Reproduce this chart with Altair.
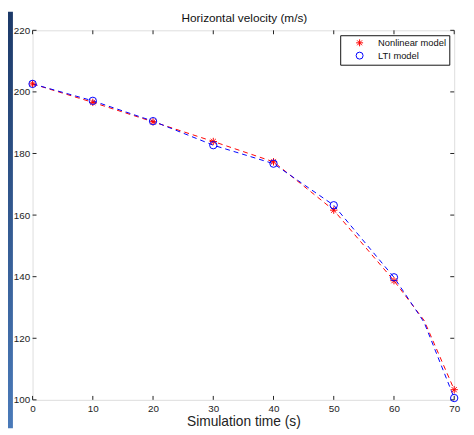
import altair as alt
import pandas as pd

# ---- data ----
series_names = ["Nonlinear model", "LTI model"]
marker_t = [0, 10, 20, 30, 40, 50, 60, 70]
nonlinear_v = [202.6, 196.6, 190.3, 183.9, 177.3, 161.6, 138.7, 103.3]
lti_v = [202.6, 197.1, 190.5, 182.7, 176.7, 163.2, 139.8, 100.6]

line_t = [0, 10, 20, 30, 40, 50, 60, 65, 70]
nonlinear_line = [202.6, 196.6, 190.3, 183.9, 177.3, 161.6, 138.7, 125.8, 103.3]
lti_line = [202.6, 197.1, 190.5, 182.7, 176.7, 163.2, 139.8, 125.2, 100.6]

x_ticks = [0, 10, 20, 30, 40, 50, 60, 70]
y_ticks = [100, 120, 140, 160, 180, 200, 220]
title_text = ["Horizontal velocity (m/s)"]

W, H = 429, 376
FONT = "Liberation Sans"
STAR = "M-1,0L1,0M0,-1L0,1M-0.7,-0.7L0.7,0.7M-0.7,0.7L0.7,-0.7"

pts = pd.DataFrame(
    {"t": marker_t * 2,
     "v": nonlinear_v + lti_v,
     "series": [series_names[0]] * len(marker_t) + [series_names[1]] * len(marker_t)}
)
lines = pd.DataFrame(
    {"t": line_t * 2,
     "v": nonlinear_line + lti_line,
     "series": [series_names[0]] * len(line_t) + [series_names[1]] * len(line_t)}
)
xt = pd.DataFrame({"t": x_ticks})
yt = pd.DataFrame({"v": y_ticks})

xs = alt.Scale(domain=[0, 70], nice=False, zero=False)
ys = alt.Scale(domain=[100, 220], nice=False, zero=False)
cscale = alt.Scale(domain=series_names, range=["#ff0000", "#0000ff"])

x_axis = alt.Axis(values=x_ticks, title="Simulation time (s)", ticks=False, domain=False,
                  grid=False, labelFont=FONT, labelFontSize=10, labelColor="#222",
                  labelPadding=4, titleFont=FONT, titleFontSize=14, titleFontWeight="normal",
                  titleColor="#222", titlePadding=1, labelFlush=False)
y_axis = alt.Axis(values=y_ticks, title=None, ticks=False, domain=False, grid=False,
                  labelFont=FONT, labelFontSize=10, labelColor="#222", labelPadding=3)

line_layer = alt.Chart(lines).mark_line(strokeDash=[5, 4], strokeWidth=1).encode(
    x=alt.X("t:Q", scale=xs, axis=x_axis),
    y=alt.Y("v:Q", scale=ys, axis=y_axis),
    color=alt.Color("series:N", scale=cscale, legend=None),
    detail="series:N",
)

point_layer = alt.Chart(pts).mark_point(filled=False, strokeWidth=1, size=56, opacity=1).encode(
    x=alt.X("t:Q", scale=xs),
    y=alt.Y("v:Q", scale=ys),
    color=alt.Color("series:N", scale=cscale, title=None,
                    legend=alt.Legend(orient="none", legendX=313, legendY=5,
                                      strokeColor="#111", fillColor="white", padding=3,
                                      labelFont=FONT, labelFontSize=9.5, labelColor="#111",
                                      symbolOffset=12, labelOffset=14, rowPadding=1,
                                      symbolStrokeWidth=1, symbolSize=50, cornerRadius=0)),
    shape=alt.Shape("series:N", scale=alt.Scale(domain=series_names, range=[STAR, "circle"]),
                    title=None),
)

tick_bottom = alt.Chart(xt).mark_rule(color="#222", strokeWidth=1).encode(
    x=alt.X("t:Q", scale=xs), y=alt.value(H), y2=alt.value(H - 4))
tick_top = alt.Chart(xt).mark_rule(color="#222", strokeWidth=1).encode(
    x=alt.X("t:Q", scale=xs), y=alt.value(0), y2=alt.value(4))
tick_left = alt.Chart(yt).mark_rule(color="#222", strokeWidth=1).encode(
    y=alt.Y("v:Q", scale=ys), x=alt.value(0), x2=alt.value(4))
tick_right = alt.Chart(yt).mark_rule(color="#222", strokeWidth=1).encode(
    y=alt.Y("v:Q", scale=ys), x=alt.value(W), x2=alt.value(W - 4))

strip = alt.Chart(pd.DataFrame({"a": [0]})).mark_rect(
    color=alt.Gradient(gradient="linear",
                       stops=[alt.GradientStop(color="#1c3968", offset=0),
                              alt.GradientStop(color="#4a7ab9", offset=1)],
                       x1=0, x2=0, y1=0, y2=1)
).encode(x=alt.value(-25), x2=alt.value(-20), y=alt.value(-19), y2=alt.value(405))

title_layer = alt.Chart(pd.DataFrame({"txt": title_text})).mark_text(
    font=FONT, fontSize=12, color="#111", baseline="alphabetic", align="center"
).encode(text="txt:N", x=alt.value(W / 2 + 1), y=alt.value(-8))

chart = alt.layer(
    strip, line_layer, tick_bottom, tick_top, tick_left, tick_right, point_layer, title_layer
).resolve_scale(color="independent", shape="independent").properties(
    width=W, height=H,
    autosize=alt.AutoSizeParams(type="none"),
    padding={"left": 25, "top": 19, "right": 12, "bottom": 29},
).configure_view(stroke="#222", strokeWidth=1).configure(background="white")

chart.save("out.html", embed_options={"renderer": "svg", "actions": False})
